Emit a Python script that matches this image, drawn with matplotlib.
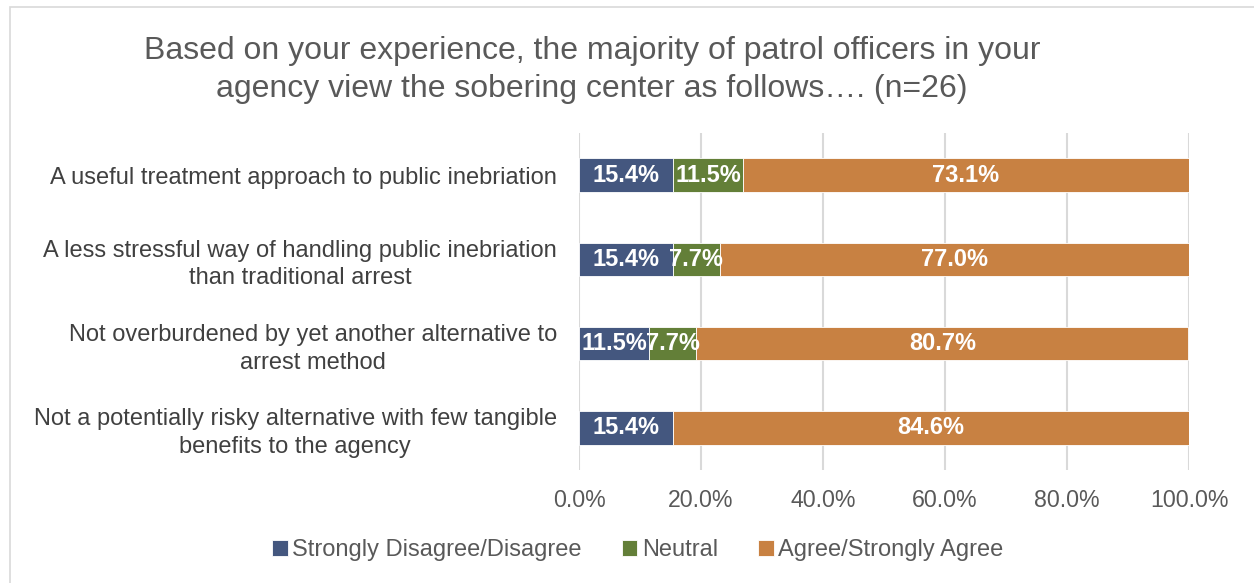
import matplotlib.pyplot as plt
from matplotlib.patches import Rectangle
import numpy as np

plt.rcParams['font.family'] = ['Liberation Sans', 'DejaVu Sans']

categories = [
    "A useful treatment approach to public inebriation",
    "A less stressful way of handling public inebriation\nthan traditional arrest",
    "Not overburdened by yet another alternative to\narrest method",
    "Not a potentially risky alternative with few tangible\nbenefits to the agency",
]
disagree = [15.4, 15.4, 11.5, 15.4]
neutral = [11.5, 7.7, 7.7, 0.0]
agree = [73.1, 77.0, 80.7, 84.6]
series_names = ["Strongly Disagree/Disagree", "Neutral", "Agree/Strongly Agree"]
colors = ["#44577F", "#637F38", "#C88142"]
xticks = [0, 20, 40, 60, 80, 100]

fig = plt.figure(figsize=(12.54, 5.83), dpi=100)
W, H = 1254, 583

# chart border
fig.patches.append(Rectangle((10 / W, -0.1), 1.1, 1 - 7 / H + 0.1,
                             transform=fig.transFigure, fill=False,
                             edgecolor="#D9D9D9", linewidth=1.2))

ax = fig.add_axes([579 / W, 1 - 470 / H, (1189 - 579) / W, (470 - 133) / H])

y = np.arange(len(categories))
left = np.zeros(len(categories))
for vals, name, col in zip([disagree, neutral, agree], series_names, colors):
    vals = np.array(vals)
    ax.barh(y, vals, left=left, height=0.40, color=col, label=name,
            edgecolor="white", linewidth=0.6, zorder=3)
    for yi, (l, v) in enumerate(zip(left, vals)):
        if v > 0:
            ax.text(l + v / 2, yi, f"{v:.1f}%", ha="center", va="center",
                    color="white", fontsize=17, fontweight="bold", zorder=4)
    left = left + vals

ax.set_xlim(0, 100)
ax.set_ylim(len(categories) - 0.5, -0.5)
ax.set_xticks(xticks)
ax.set_xticklabels([f"{t:.1f}%" for t in xticks], fontsize=16.7, color="#595959")
ax.set_yticks(y)
ax.set_yticklabels(categories, fontsize=17, color="#404040")
for lbl in ax.get_yticklabels():
    lbl.set_multialignment("center")
    lbl.set_linespacing(1.32)
ax.tick_params(axis="y", length=0, pad=16)
ax.tick_params(axis="x", length=0, pad=14)
ax.grid(axis="x", color="#D9D9D9", linewidth=1.5, zorder=0)
for s in ax.spines.values():
    s.set_visible(False)

fig.text(592 / W, 1 - 70 / H,
         "Based on your experience, the majority of patrol officers in your\n"
         "agency view the sobering center as follows…. (n=26)",
         ha="center", va="center", fontsize=23, color="#595959", linespacing=1.33)

handles, labels = ax.get_legend_handles_labels()
fig.legend(handles, labels, loc="center", bbox_to_anchor=(638 / W, 1 - 550 / H),
           ncol=3, frameon=False, fontsize=17, handlelength=0.65, handleheight=0.65,
           handletextpad=0.2, columnspacing=1.7, labelcolor="#595959")

fig.savefig("out.png", dpi=100)
